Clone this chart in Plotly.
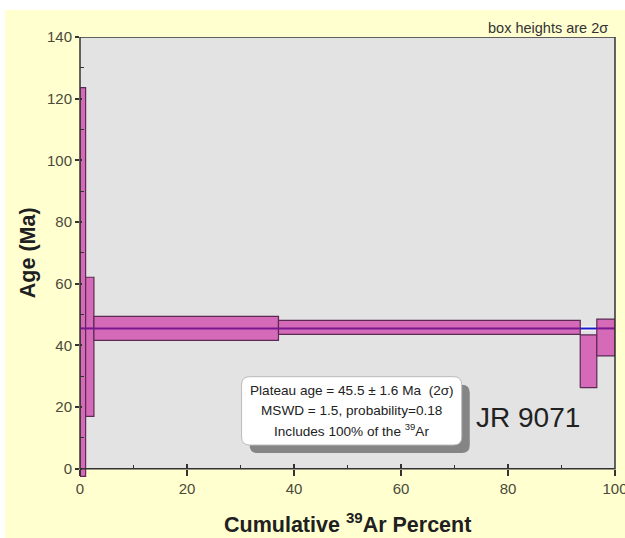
import plotly.graph_objects as go

# ---------------- data ----------------
cum_pct = [0, 1.05, 2.6, 37.1, 93.5, 96.6, 100]          # cumulative 39Ar % step boundaries
step_age = [60.55, 39.55, 45.5, 45.85, 34.85, 42.55]      # Ma
step_err2s = [63.05, 22.55, 3.9, 2.25, 8.55, 5.95]        # 2 sigma half-heights
plateau_age = 45.5
plateau_err2s = 1.6
mswd = 1.5
probability = 0.18
included_pct = 100
sample_name = "JR 9071"
x_ticks = [0, 20, 40, 60, 80, 100]
x_minor = [10, 30, 50, 70, 90]
y_ticks = [0, 20, 40, 60, 80, 100, 120, 140]
y_minor = [10, 30, 50, 70, 90, 110, 130]

# ---------------- style ----------------
FONT = "Liberation Sans, Arial, sans-serif"
YELLOW = "#ffffd0"
GRAY = "#e3e3e3"
BOX_FILL = "#d46ab8"
BOX_LINE = "#5a2a52"
PURPLE = "#7a1890"
BLUE = "#1a1ad0"
AXC = "#333333"
TICKC = "#4a4a3a"

Y_LO = -3
Y_HI = 140

fig = go.Figure()

# plateau line (white halo + blue)
fig.add_trace(go.Scatter(x=[cum_pct[0], cum_pct[-1]], y=[plateau_age, plateau_age],
                         mode="lines", line=dict(color="white", width=4),
                         hoverinfo="skip", showlegend=False))
fig.add_trace(go.Scatter(x=[cum_pct[0], cum_pct[-1]], y=[plateau_age, plateau_age],
                         mode="lines", line=dict(color=BLUE, width=2),
                         hoverinfo="skip", showlegend=False))

# step boxes
for i in range(len(step_age)):
    x0, x1 = cum_pct[i], cum_pct[i + 1]
    lo = step_age[i] - step_err2s[i]
    hi = step_age[i] + step_err2s[i]
    fig.add_trace(go.Scatter(x=[x0, x1, x1, x0, x0], y=[lo, lo, hi, hi, lo],
                             mode="lines", fill="toself", fillcolor=BOX_FILL,
                             line=dict(color=BOX_LINE, width=1.2),
                             hoverinfo="skip", showlegend=False))

# plateau line seen through steps that contain it (purple)
for i in range(len(step_age)):
    lo = step_age[i] - step_err2s[i]
    hi = step_age[i] + step_err2s[i]
    if lo <= plateau_age <= hi:
        fig.add_trace(go.Scatter(x=[cum_pct[i], cum_pct[i + 1]], y=[plateau_age, plateau_age],
                                 mode="lines", line=dict(color=PURPLE, width=2),
                                 hoverinfo="skip", showlegend=False))

# helper trace for overlay axes (crossing major ticks)
fig.add_trace(go.Scatter(x=[cum_pct[0]], y=[plateau_age], xaxis="x2", yaxis="y2",
                         mode="markers", marker=dict(opacity=0), hoverinfo="skip",
                         showlegend=False))

pos0 = (0 - Y_LO) / (Y_HI - Y_LO)
tickfont = dict(family=FONT, size=15, color=TICKC)

fig.update_layout(
    width=625, height=538,
    margin=dict(l=80, r=10, t=37, b=60, autoexpand=False),
    paper_bgcolor="white",
    plot_bgcolor="rgba(0,0,0,0)",
    showlegend=False,
    xaxis=dict(range=[0, 100], domain=[0, 1], anchor="free", position=pos0,
               tickvals=x_ticks, ticks="outside", ticklen=6, tickwidth=1.5, tickcolor=AXC,
               minor=dict(tickvals=x_minor, ticks="inside", ticklen=4, tickwidth=1.2, tickcolor=AXC),
               showline=False, zeroline=False, showgrid=False, tickfont=tickfont,
               ticklabeloverflow="allow", automargin=False),
    xaxis2=dict(overlaying="x", matches="x", anchor="free", position=pos0,
                tickvals=x_ticks, ticks="inside", ticklen=5, tickwidth=1.5, tickcolor=AXC,
                showticklabels=False, showline=False, zeroline=False, showgrid=False,
                automargin=False),
    yaxis=dict(range=[Y_LO, Y_HI], domain=[0, 1],
               tickvals=y_ticks, ticks="outside", ticklen=4, tickwidth=1.5, tickcolor=AXC,
               minor=dict(tickvals=y_minor, ticks="inside", ticklen=4, tickwidth=1.2, tickcolor=AXC),
               showline=False, zeroline=False, showgrid=False, tickfont=tickfont,
               ticklabeloverflow="allow", automargin=False),
    yaxis2=dict(overlaying="y", matches="y", anchor="x2",
                tickvals=y_ticks, ticks="inside", ticklen=2, tickwidth=1.5, tickcolor=AXC,
                showticklabels=False, showline=False, zeroline=False, showgrid=False,
                automargin=False),
)

# backgrounds
fig.add_shape(type="rect", xref="paper", yref="paper", x0=-0.1402, x1=1.02, y0=-0.14, y1=1.0612,
              fillcolor=YELLOW, line=dict(width=0), layer="below")
fig.add_shape(type="rect", xref="paper", yref="y", x0=0, x1=1, y0=0, y1=Y_HI,
              fillcolor=GRAY, line=dict(width=0), layer="below")
# frame
fig.add_shape(type="rect", xref="paper", yref="y", x0=0, x1=1, y0=0, y1=Y_HI,
              fillcolor="rgba(0,0,0,0)", line=dict(color=AXC, width=1.5), layer="above")

# rounded info box with shadow
def rounded(x0, x1, y0, y1, rx, ry):
    return (f"M {x0+rx},{y0} L {x1-rx},{y0} Q {x1},{y0} {x1},{y0+ry} "
            f"L {x1},{y1-ry} Q {x1},{y1} {x1-rx},{y1} L {x0+rx},{y1} "
            f"Q {x0},{y1} {x0},{y1-ry} L {x0},{y0+ry} Q {x0},{y0} {x0+rx},{y0} Z")

bx0, bx1, by0, by1 = 30.2, 71.35, 7.7, 29.85
rx, ry = 1.5, 2.6
fig.add_shape(type="path", path=rounded(bx0 + 1.5, bx1 + 1.5, by0 - 2.6, by1 - 2.6, rx, ry),
              fillcolor="#858585", line=dict(width=0), layer="above")
fig.add_shape(type="path", path=rounded(bx0, bx1, by0, by1, rx, ry),
              fillcolor="white", line=dict(color="#bbbbbb", width=1), layer="above")

info_lines = [
    f"Plateau age = {plateau_age} ± {plateau_err2s} Ma  (2σ)",
    f"MSWD = {mswd}, probability={probability}",
    f"Includes {included_pct}% of the <sup>39</sup>Ar",
]
line_y = [25.5, 19.05, 12.6]
for t, yy in zip(info_lines, line_y):
    fig.add_annotation(x=(bx0 + bx1) / 2, y=yy, text=t, showarrow=False,
                       xanchor="center", yanchor="middle",
                       font=dict(family=FONT, size=13.6, color="#222222"))

fig.add_annotation(x=83.7, y=16.5, text=sample_name, showarrow=False,
                   xanchor="center", yanchor="middle",
                   font=dict(family=FONT, size=28, color="#222222"))

fig.add_annotation(xref="paper", yref="paper", x=0.9907, y=1.0204, text="box heights are 2σ",
                   showarrow=False, xanchor="right", yanchor="middle",
                   font=dict(family=FONT, size=14.5, color="#333333"))

# axis titles
fig.add_annotation(xref="paper", yref="paper", x=0.5, y=-0.102,
                   text="<b>Cumulative <sup>39</sup>Ar Percent</b>", showarrow=False,
                   xanchor="center", yanchor="middle",
                   font=dict(family=FONT, size=21.5, color="#202020"))
fig.add_annotation(xref="paper", yref="paper", x=-0.097, y=0.51,
                   text="<b>Age (Ma)</b>", showarrow=False, textangle=-90,
                   xanchor="center", yanchor="middle",
                   font=dict(family=FONT, size=21.5, color="#202020"))

fig.write_html("out.html")
